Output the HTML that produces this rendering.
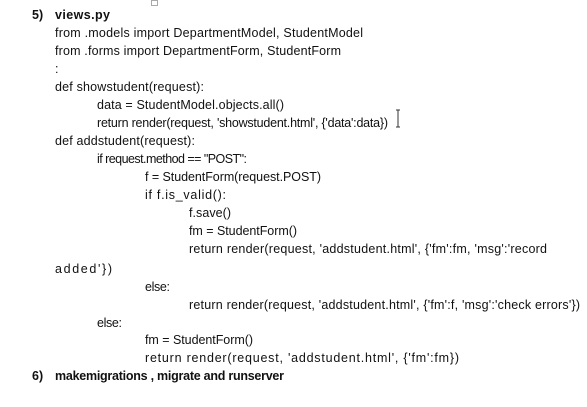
<!DOCTYPE html>
<html><head><meta charset="utf-8"><style>
html,body{margin:0;padding:0;background:#fff;width:587px;height:407px;overflow:hidden}
svg text{font-family:"Liberation Sans",sans-serif;font-size:12.5px;fill:#111}
svg text.b{font-weight:bold}
</style></head><body>
<svg width="587" height="407" xmlns="http://www.w3.org/2000/svg">
<rect x="151.5" y="0.5" width="6" height="5" fill="none" stroke="#aaa" stroke-width="1"/>
<text class="b" x="32" y="19">5)</text>
<text class="b" x="55" y="19" textLength="55" lengthAdjust="spacing">views.py</text>
<text x="55" y="37" textLength="308" lengthAdjust="spacing">from .models import DepartmentModel, StudentModel</text>
<text x="55" y="55" textLength="286" lengthAdjust="spacing">from .forms import DepartmentForm, StudentForm</text>
<text x="55" y="73">:</text>
<text x="55" y="91" textLength="149" lengthAdjust="spacing">def showstudent(request):</text>
<text x="97" y="109" textLength="187" lengthAdjust="spacing">data = StudentModel.objects.all()</text>
<text x="97" y="127" textLength="291" lengthAdjust="spacing">return render(request, 'showstudent.html', {'data':data})</text>
<path d="M396 110 h4 M398 110 v17 M396 127 h4" stroke="#333" stroke-width="1" fill="none"/>
<text x="55" y="145" textLength="140" lengthAdjust="spacing">def addstudent(request):</text>
<text x="97" y="163" textLength="150" lengthAdjust="spacing">if request.method == "POST":</text>
<text x="145" y="181" textLength="176" lengthAdjust="spacing">f =  StudentForm(request.POST)</text>
<text x="145" y="199" textLength="81" lengthAdjust="spacing">if f.is_valid():</text>
<text x="189" y="217" textLength="42" lengthAdjust="spacing">f.save()</text>
<text x="189" y="235" textLength="108" lengthAdjust="spacing">fm = StudentForm()</text>
<text x="189" y="253" textLength="358" lengthAdjust="spacing">return render(request, 'addstudent.html', {'fm':fm, 'msg':'record</text>
<text x="55" y="273" textLength="57" lengthAdjust="spacing">added'})</text>
<text x="145" y="291" textLength="25" lengthAdjust="spacing">else:</text>
<text x="189" y="309" textLength="391" lengthAdjust="spacing">return render(request, 'addstudent.html', {'fm':f, 'msg':'check errors'})</text>
<text x="97" y="327" textLength="25" lengthAdjust="spacing">else:</text>
<text x="145" y="344" textLength="108" lengthAdjust="spacing">fm = StudentForm()</text>
<text x="145" y="362" textLength="314" lengthAdjust="spacing">return render(request, 'addstudent.html', {'fm':fm})</text>
<text class="b" x="32" y="380">6)</text>
<text class="b" x="55" y="380" textLength="229" lengthAdjust="spacing">makemigrations , migrate and runserver</text>
</svg>
</body></html>
